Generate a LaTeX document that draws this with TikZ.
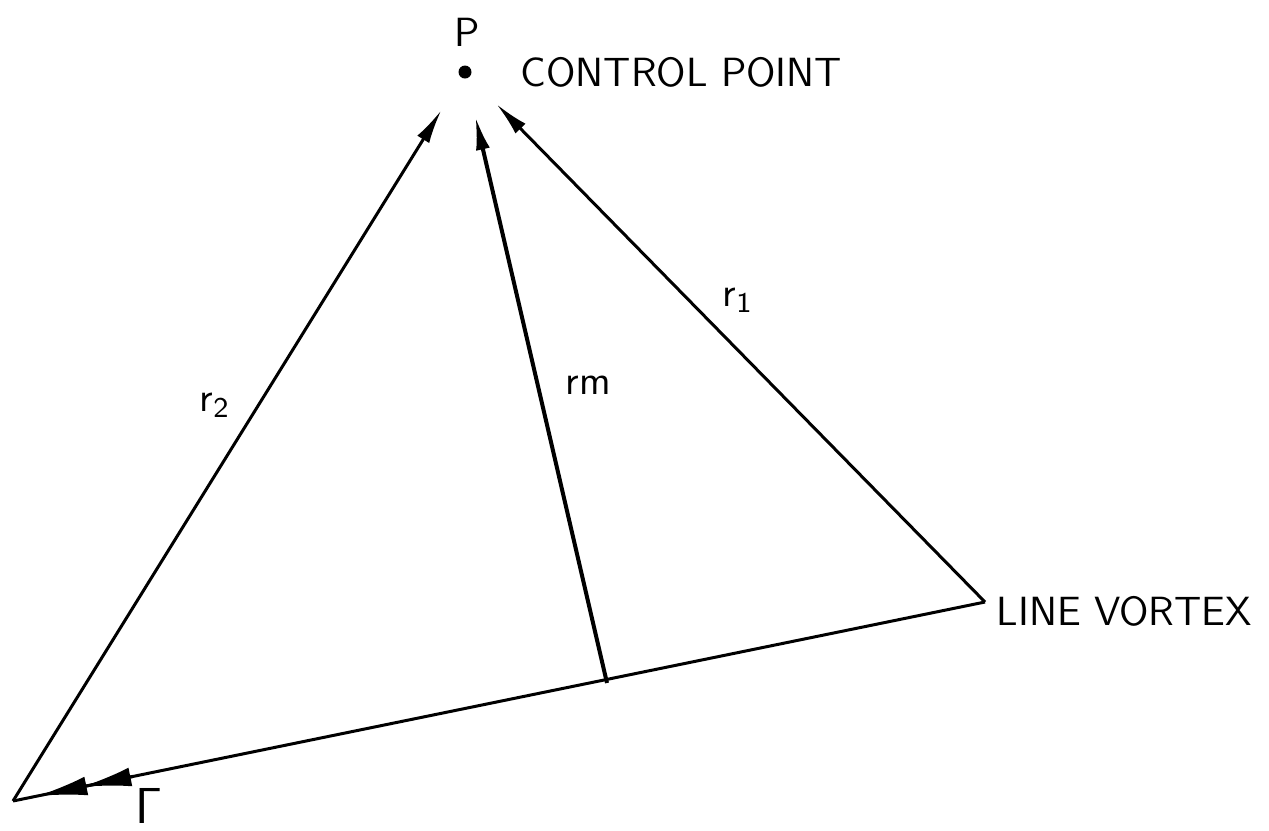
\documentclass[tikz,border=0pt]{standalone}
\usepackage{tikz}
\usetikzlibrary{positioning, arrows.meta, calc}

\begin{document}
\begin{tikzpicture}[every node/.style={font=\sffamily\fontsize{11.6}{14}\selectfont, inner sep=0pt},
      vec/.style={line width=0.3mm, -{Latex[length=3.4mm, width=1.4mm]}, shorten >=3.8mm}]
    \useasboundingbox (0,0) rectangle (12.69,-8.30);

    \node[circle, fill, minimum size=1.3mm] (P) at (4.65,-0.72) {};
    \node[above=1.8mm of P, xshift=0.2mm] (plab) {P};
    \node[right=4.8mm of P, anchor=west] (cp) {CONTROL POINT};

    \coordinate (A) at (0.13,-8.01);
    \coordinate (B) at (9.85,-6.02);
    \coordinate (M) at (6.07,-6.83);
    \node[right=1.1mm of B, yshift=-0.9mm] (lv) {LINE VORTEX};

    \draw[line width=0.3mm] (A) -- (B);
    \draw[line width=0.3mm, -{Latex[length=5mm, width=1.9mm, sep=-0.5mm]Latex[length=5mm, width=1.9mm]}]
      ($(A)!0.124!(B)$) -- ($(A)!0.025!(B)$);
    \node[font=\fontsize{14}{16}\selectfont] (gam) at (1.49,-8.06) {$\mathsf{\Gamma}$};

    \draw[vec] (A) -- (P);
    \draw[vec, line width=0.4mm] (M) -- (P);
    \draw[vec] (B) -- (P);

    \node (r2) at (2.15,-4.05) {r\textsubscript{2}};
    \node (rm) at (5.88,-3.85) {rm};
    \node (r1) at (7.38,-3.00) {r\textsubscript{1}};
  \end{tikzpicture}
\end{document}
